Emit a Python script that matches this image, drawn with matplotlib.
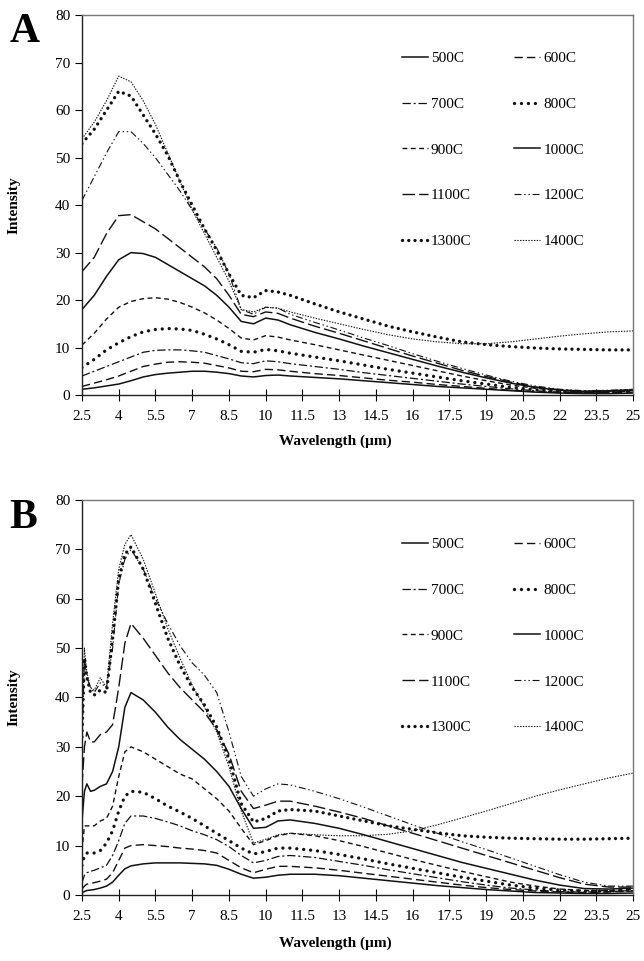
import numpy as np
import matplotlib as mpl
mpl.use("Agg")
import matplotlib.pyplot as plt

plt.rcParams['font.family'] = ['Liberation Serif', 'DejaVu Serif']
plt.rcParams['lines.scale_dashes'] = False

labels = ['500C', '600C', '700C', '800C', '900C', '1000C', '1100C', '1200C', '1300C', '1400C']
xticks = [2.5, 4, 5.5, 7, 8.5, 10, 11.5, 13, 14.5, 16, 17.5, 19, 20.5, 22, 23.5, 25]

# panel A wavelengths (um)
wl_a = [2.5, 3, 3.5, 4, 4.5, 5, 5.5, 6, 6.5, 7, 7.5, 8, 8.5, 9, 9.5, 10, 10.5, 11,
        12, 13, 14, 15, 16, 17, 18, 19, 20, 21, 22, 23, 24, 25]
a_500 = [1.2, 1.5, 1.9, 2.3, 3.0, 3.8, 4.3, 4.6, 4.8, 5.0, 5.0, 4.8, 4.5, 4.0, 3.8, 4.1, 4.2, 4.0,
         3.7, 3.4, 3.0, 2.6, 2.2, 1.8, 1.5, 1.2, 0.9, 0.6, 0.4, 0.3, 0.3, 0.4]
a_600 = [1.8, 2.5, 3.2, 4.0, 5.0, 6.0, 6.5, 6.9, 7.0, 6.9, 6.7, 6.2, 5.7, 5.0, 4.9, 5.4, 5.3, 5.0,
         4.5, 4.1, 3.6, 3.1, 2.7, 2.2, 1.8, 1.4, 1.0, 0.7, 0.5, 0.4, 0.5, 0.6]
a_700 = [4.0, 5.0, 6.0, 7.0, 8.0, 9.0, 9.4, 9.5, 9.5, 9.3, 9.0, 8.3, 7.6, 6.8, 6.6, 7.2, 7.0, 6.6,
         6.0, 5.4, 4.7, 4.1, 3.5, 2.9, 2.3, 1.8, 1.3, 0.9, 0.6, 0.5, 0.6, 0.8]
a_800 = [5.8, 7.5, 9.5, 11.0, 12.3, 13.3, 13.8, 14.0, 13.9, 13.6, 12.8, 11.8, 10.6, 9.2, 9.0, 9.6, 9.3, 8.8,
         8.0, 7.2, 6.3, 5.4, 4.6, 3.8, 3.0, 2.3, 1.6, 1.1, 0.8, 0.6, 0.7, 0.9]
a_900 = [10.5, 13.0, 16.0, 18.5, 19.7, 20.3, 20.5, 20.2, 19.5, 18.5, 17.3, 15.8, 14.0, 12.0, 11.6, 12.5, 12.2, 11.6,
         10.6, 9.5, 8.4, 7.3, 6.2, 5.1, 4.0, 3.0, 2.1, 1.4, 0.9, 0.7, 0.8, 1.0]
a_1000 = [18.0, 21.0, 25.0, 28.5, 30.0, 29.8, 29.0, 27.5, 26.0, 24.5, 23.0, 21.0, 18.5, 15.5, 15.0, 16.2, 15.8, 14.8,
          13.2, 11.8, 10.3, 8.9, 7.5, 6.1, 4.8, 3.6, 2.5, 1.6, 1.0, 0.7, 0.8, 1.0]
a_1100 = [26.0, 29.0, 34.0, 37.8, 38.0, 36.5, 35.0, 33.0, 31.0, 29.0, 27.0, 24.5, 21.0, 17.0, 16.5, 17.5, 17.2, 16.2,
          14.5, 13.0, 11.4, 9.8, 8.2, 6.7, 5.2, 3.9, 2.7, 1.7, 1.1, 0.8, 0.9, 1.1]
a_1200 = [41.0, 46.0, 51.0, 55.5, 55.5, 53.0, 50.0, 46.5, 43.0, 39.0, 35.0, 31.0, 25.5, 18.0, 17.0, 18.5, 18.3, 17.0,
          15.3, 13.7, 12.0, 10.4, 8.7, 7.1, 5.6, 4.2, 2.9, 1.9, 1.2, 0.9, 1.0, 1.2]
a_1300 = [53.0, 56.0, 60.0, 64.0, 63.0, 59.0, 55.0, 50.5, 45.0, 40.0, 35.0, 30.5, 25.5, 21.0, 20.5, 22.0, 21.7, 21.0,
          19.2, 17.5, 16.0, 14.5, 13.3, 12.2, 11.2, 10.6, 10.2, 9.9, 9.7, 9.6, 9.5, 9.5]
a_1400 = [54.0, 57.5, 62.0, 67.2, 66.0, 62.0, 57.0, 51.0, 45.0, 39.0, 34.0, 29.0, 24.0, 18.0, 17.5, 18.5, 18.3, 17.5,
          16.2, 15.0, 13.8, 12.7, 11.8, 11.2, 10.8, 10.8, 11.2, 11.8, 12.4, 12.9, 13.3, 13.5]

# panel B wavelengths (um)
wl_b = [2.5, 2.6, 2.7, 2.85, 3, 3.25, 3.5, 3.75, 4, 4.25, 4.5, 5, 5.5, 6, 6.5, 7, 7.5, 8, 8.5, 9, 9.5,
        10, 10.5, 11, 12, 13, 14, 15, 16, 17, 18, 19, 20, 21, 22, 23, 24, 25]
b_500 = [0.4, 0.7, 0.9, 1.0, 1.1, 1.4, 1.8, 2.6, 4.0, 5.3, 5.9, 6.3, 6.5, 6.5, 6.5, 6.4, 6.3, 6.0, 5.2, 4.2, 3.4,
         3.6, 4.0, 4.2, 4.2, 3.9, 3.4, 2.9, 2.4, 1.9, 1.5, 1.1, 0.8, 0.5, 0.4, 0.3, 0.3, 0.4]
b_600 = [1.2, 1.8, 2.2, 2.3, 2.5, 2.8, 3.2, 4.5, 7.0, 9.5, 10.0, 10.2, 10.0, 9.8, 9.5, 9.3, 9.0, 8.5, 7.0, 5.5, 4.5,
         5.2, 5.8, 5.8, 5.5, 5.0, 4.4, 3.8, 3.2, 2.6, 2.0, 1.5, 1.1, 0.8, 0.6, 0.5, 0.6, 0.8]
b_700 = [2.5, 4.0, 4.5, 4.8, 5.0, 5.5, 6.0, 8.0, 11.0, 14.5, 16.0, 16.0, 15.5, 14.8, 14.0, 13.0, 12.2, 11.2, 9.8, 8.0, 6.5,
         7.0, 7.8, 8.0, 7.6, 6.8, 6.0, 5.1, 4.3, 3.5, 2.7, 2.0, 1.4, 1.0, 0.7, 0.6, 0.7, 0.9]
b_800 = [6.0, 8.0, 8.5, 8.5, 8.5, 9.0, 10.5, 13.0, 17.0, 20.0, 21.0, 20.8, 19.5, 18.0, 16.8, 15.5, 14.0, 12.5, 11.0, 9.5, 8.3,
         8.8, 9.5, 9.5, 9.0, 8.2, 7.3, 6.3, 5.4, 4.5, 3.6, 2.8, 2.0, 1.4, 1.0, 0.8, 0.8, 1.0]
b_900 = [9.0, 14.0, 14.0, 14.0, 14.0, 15.0, 15.5, 18.0, 24.0, 29.0, 30.0, 29.0, 27.5, 26.0, 24.5, 23.5, 21.5, 19.5, 17.0, 13.5, 10.2,
         11.0, 12.0, 12.5, 12.0, 11.0, 9.8, 8.5, 7.2, 6.0, 4.8, 3.7, 2.6, 1.8, 1.2, 0.9, 0.9, 1.1]
b_1000 = [15.0, 21.0, 22.5, 21.0, 21.2, 22.0, 22.5, 25.0, 30.0, 38.0, 41.0, 39.5, 37.0, 34.0, 31.5, 29.5, 27.5, 25.0, 22.0, 17.5, 13.5,
          13.7, 15.0, 15.2, 14.5, 13.5, 12.2, 10.8, 9.4, 8.0, 6.6, 5.4, 4.2, 3.0, 2.0, 1.3, 1.2, 1.4]
b_1100 = [22.0, 30.0, 33.0, 31.0, 31.0, 32.5, 33.0, 34.5, 42.0, 51.0, 55.0, 52.0, 48.5, 45.0, 42.0, 39.5, 37.0, 33.5, 28.5, 21.0, 17.5,
          18.2, 19.0, 19.0, 18.0, 16.8, 15.5, 14.0, 12.5, 11.0, 9.5, 8.0, 6.5, 5.0, 3.5, 2.2, 1.6, 1.6]
b_1200 = [30.0, 48.0, 44.0, 42.0, 41.0, 43.0, 42.0, 50.0, 63.0, 68.0, 70.0, 66.0, 60.0, 55.0, 50.5, 47.0, 44.5, 41.0, 33.0, 24.0, 20.0,
          21.5, 22.5, 22.3, 21.0, 19.5, 17.8, 16.0, 14.2, 12.5, 10.8, 9.2, 7.5, 5.8, 4.1, 2.6, 1.8, 1.8]
b_1300 = [32.0, 48.0, 44.0, 41.0, 40.5, 41.5, 41.0, 52.0, 64.0, 69.0, 70.5, 66.0, 59.0, 52.0, 46.5, 42.0, 38.5, 34.0, 27.5, 18.5, 14.8,
          15.5, 17.0, 17.3, 17.0, 16.0, 15.0, 14.0, 13.3, 12.6, 12.0, 11.7, 11.5, 11.4, 11.3, 11.3, 11.4, 11.5]
b_1400 = [34.0, 50.0, 45.0, 42.0, 41.5, 44.0, 42.0, 55.0, 66.0, 71.0, 73.0, 68.0, 61.0, 54.0, 48.0, 42.5, 38.0, 33.0, 26.0, 17.0, 10.5,
          11.3, 12.2, 12.5, 12.2, 12.0, 12.0, 12.3, 13.0, 14.2, 15.6, 17.0, 18.5, 20.0, 21.3, 22.5, 23.7, 24.7]

series_a = [a_500, a_600, a_700, a_800, a_900, a_1000, a_1100, a_1200, a_1300, a_1400]
series_b = [b_500, b_600, b_700, b_800, b_900, b_1000, b_1100, b_1200, b_1300, b_1400]

# line style for each temperature (dashes in points, since scale_dashes is off)
styles = [
    dict(ls='-', lw=1.1),
    dict(ls=(0, (6, 3)), lw=1.0),
    dict(ls=(0, (6, 2, 1.5, 2)), lw=0.9),
    dict(ls=(0, (0.01, 5.0)), lw=2.4, dash_capstyle='round'),
    dict(ls=(0, (3.5, 2.5)), lw=1.0),
    dict(ls='-', lw=1.1),
    dict(ls=(0, (9, 3)), lw=1.0),
    dict(ls=(0, (5, 2, 1, 2, 1, 2)), lw=0.8),
    dict(ls=(0, (0.01, 4.5)), lw=2.4, dash_capstyle='round'),
    dict(ls=(0, (1, 1)), lw=0.8),
]


def draw_panel(ax, wl, series, letter):
    lines = []
    for vals, lab, st in zip(series, labels, styles):
        ln, = ax.plot(wl, vals, color='#111111', label=lab, **st)
        lines.append(ln)
    ax.set_xlim(2.5, 25)
    ax.set_ylim(0, 80)
    ax.set_xticks(xticks)
    ax.set_xticklabels([f"{t:g}" for t in xticks], fontsize=11)
    ax.set_yticks(np.arange(0, 81, 10))
    ax.tick_params(axis='y', labelsize=11, direction='out', length=5, width=0.8)
    ax.tick_params(axis='x', direction='inout', length=9, width=0.8, pad=6)
    for s in ['left', 'bottom']:
        ax.spines[s].set_color('#222222')
        ax.spines[s].set_linewidth(1.0)
    for s in ['top', 'right']:
        ax.spines[s].set_color('#777777')
        ax.spines[s].set_linewidth(1.0)
    ax.set_ylabel('Intensity', fontsize=11, fontweight='bold')
    ax.yaxis.set_label_coords(-0.112, 0.5)
    ax.set_xlabel('Wavelength (\u00b5m)', fontsize=11, fontweight='bold')
    ax.xaxis.set_label_coords(0.46, -0.105)
    ax.text(-0.132, 0.955, letter, transform=ax.transAxes, fontsize=30,
            fontweight='bold', ha='left', va='center')
    # legend reads row by row: 500C 600C / 700C 800C / ...
    order = [0, 2, 4, 6, 8, 1, 3, 5, 7, 9]
    ax.legend([lines[i] for i in order], [labels[i] for i in order],
              ncol=2, frameon=False, loc='upper left', bbox_to_anchor=(0.58, 0.905),
              fontsize=11, handlelength=1.7, handletextpad=0.2, columnspacing=2.8,
              labelspacing=2.1, borderpad=0, borderaxespad=0)


def main():
    fig = plt.figure(figsize=(6.44, 9.61), dpi=100)
    ax_a = fig.add_axes([0.1273, 0.589, 0.856, 0.395])
    ax_b = fig.add_axes([0.1273, 0.0687, 0.856, 0.411])
    draw_panel(ax_a, wl_a, series_a, 'A')
    draw_panel(ax_b, wl_b, series_b, 'B')
    fig.savefig('out.png', dpi=100, facecolor='white')


if __name__ == "__main__":
    main()
